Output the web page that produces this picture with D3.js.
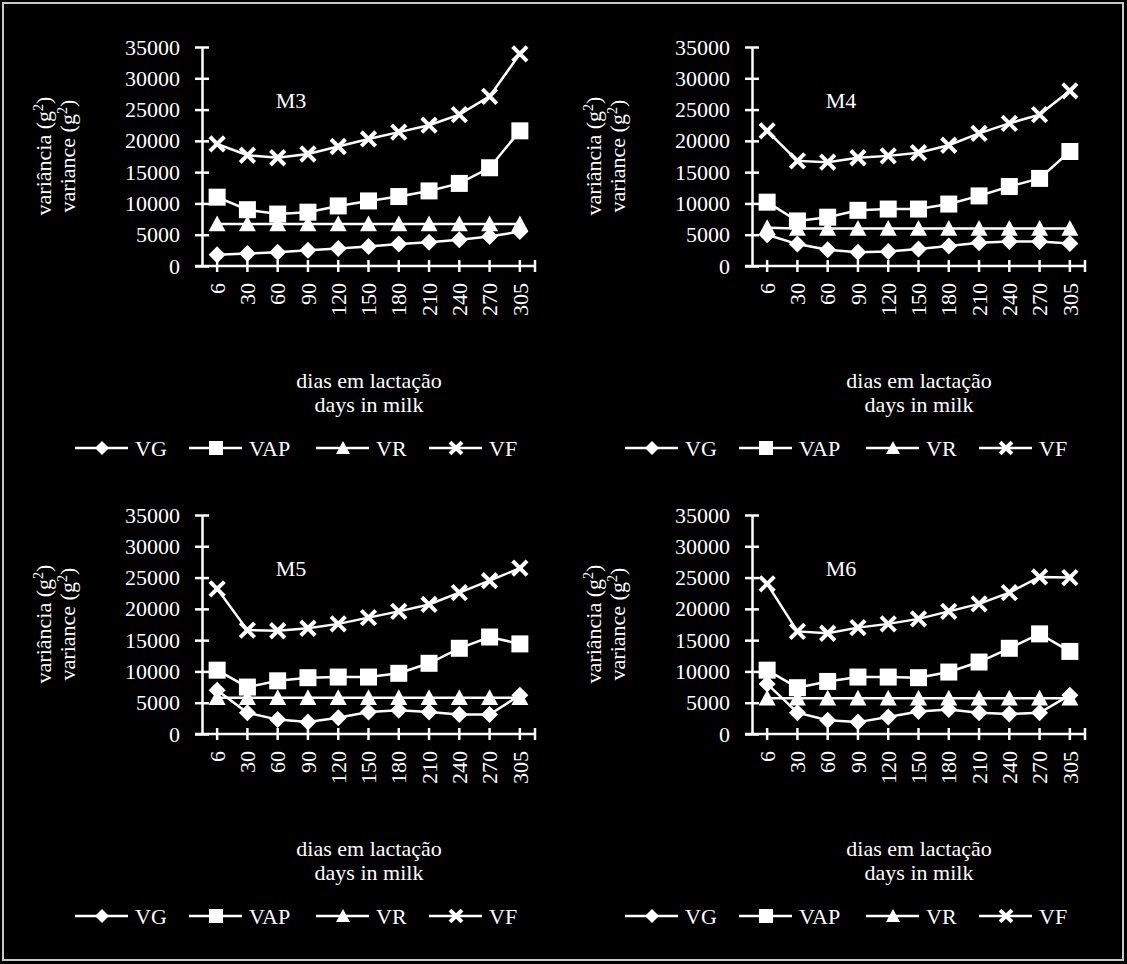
<!DOCTYPE html>
<html><head><meta charset="utf-8">
<script src="https://cdn.jsdelivr.net/npm/d3@7"></script>
<style>
html,body{margin:0;padding:0;background:#000;}
svg{display:block;}
text{font-family:"Liberation Serif","Times New Roman",serif;fill:#fff;}
</style></head>
<body>
<svg id="chart" width="1127" height="964"></svg>
<script>
const days = ["6","30","60","90","120","150","180","210","240","270","305"];
const yTicks = [0,5000,10000,15000,20000,25000,30000,35000];
const seriesNames = ["VG","VAP","VR","VF"];
const panelNames = ["M3","M4","M5","M6"];

const M3_VG  = [1800,2000,2200,2500,2800,3100,3500,3800,4200,4700,5500];
const M3_VAP = [11000,9000,8300,8600,9600,10400,11100,12000,13200,15700,21600];
const M3_VR  = [6700,6700,6700,6700,6700,6700,6700,6700,6700,6700,6700];
const M3_VF  = [19500,17700,17300,17900,19100,20300,21400,22500,24200,27100,33900];

const M4_VG  = [5000,3500,2600,2200,2300,2700,3200,3700,3900,3900,3600];
const M4_VAP = [10200,7200,7800,8900,9100,9100,9900,11200,12700,14000,18300];
const M4_VR  = [6100,6000,6000,6000,6000,6000,6000,6000,6000,6000,6000];
const M4_VF  = [21600,16800,16600,17300,17600,18100,19300,21200,22800,24200,28000];

const M5_VG  = [7000,3400,2300,1900,2600,3500,3800,3500,3100,3100,6200];
const M5_VAP = [10200,7500,8500,9000,9100,9100,9700,11300,13700,15500,14400];
const M5_VR  = [5800,5800,5800,5800,5800,5800,5800,5800,5800,5800,5800];
const M5_VF  = [23200,16600,16500,16900,17600,18600,19600,20700,22600,24500,26500];

const M6_VG  = [8000,3400,2200,1900,2700,3600,3900,3400,3200,3400,6200];
const M6_VAP = [10200,7400,8400,9100,9100,9000,9900,11500,13700,16000,13200];
const M6_VR  = [5700,5700,5700,5700,5700,5700,5700,5700,5700,5700,5700];
const M6_VF  = [24000,16400,16100,17000,17600,18400,19600,20800,22600,25100,25000];

const panelData = {
  M3:[M3_VG,M3_VAP,M3_VR,M3_VF],
  M4:[M4_VG,M4_VAP,M4_VR,M4_VF],
  M5:[M5_VG,M5_VAP,M5_VR,M5_VF],
  M6:[M6_VG,M6_VAP,M6_VR,M6_VF]
};

const svg = d3.select("#chart");
svg.append("rect").attr("x",0).attr("y",0).attr("width",1127).attr("height",964).attr("fill","#000");
svg.append("rect").attr("x",3).attr("y",3).attr("width",1120).attr("height",957)
  .attr("fill","none").attr("stroke","#c8c8c8").attr("stroke-width",2);

const FS = 22;

const layout = {
  M3:{ox:0,   oy:0},
  M4:{ox:550, oy:0},
  M5:{ox:0,   oy:468},
  M6:{ox:550, oy:468}
};

function marker(g, type, cx, cy, s){
  if(type==="VG"){
    g.append("path").attr("d",`M${cx},${cy-s}L${cx+s},${cy}L${cx},${cy+s}L${cx-s},${cy}Z`).attr("fill","#fff");
  } else if(type==="VAP"){
    g.append("rect").attr("x",cx-s).attr("y",cy-s).attr("width",2*s).attr("height",2*s).attr("fill","#fff");
  } else if(type==="VR"){
    g.append("path").attr("d",`M${cx},${cy-s}L${cx+s},${cy+s*0.85}L${cx-s},${cy+s*0.85}Z`).attr("fill","#fff");
  } else {
    const k = s*0.85;
    g.append("path").attr("d",`M${cx-k},${cy-k}L${cx+k},${cy+k}M${cx+k},${cy-k}L${cx-k},${cy+k}`)
      .attr("stroke","#fff").attr("stroke-width",4).attr("fill","none");
  }
}

function drawPanel(name){
  const L = layout[name];
  const g = svg.append("g").attr("transform",`translate(${L.ox},${L.oy})`);
  const x0 = 202, x1 = 535, yTop = 47, yBot = 266;
  const x = d3.scaleBand().domain(days).range([x0,x1]).padding(0);
  const y = d3.scaleLinear().domain([0,35000]).range([yBot,yTop]);
  const cx = d => x(d)+x.bandwidth()/2;

  const ya = g.append("g").attr("transform",`translate(${x0},0)`)
    .call(d3.axisLeft(y).tickValues(yTicks).tickSize(0).tickPadding(22).tickFormat(d3.format("d")));
  ya.select(".domain").attr("stroke","#fff").attr("stroke-width",2.5);
  ya.selectAll(".tick line").attr("x1",-7).attr("x2",7).attr("stroke","#fff").attr("stroke-width",2.5);
  ya.selectAll("text").attr("font-size",FS).attr("font-family","Liberation Serif").attr("fill","#fff");

  const xa = g.append("g").attr("transform",`translate(0,${yBot})`);
  xa.append("line").attr("x1",x0-7).attr("x2",x1).attr("y1",0).attr("y2",0).attr("stroke","#fff").attr("stroke-width",2.5);
  const tickPos = days.map(cx).concat([x1]);
  xa.selectAll("line.tk").data(tickPos).enter().append("line").attr("class","tk")
    .attr("x1",d=>d).attr("x2",d=>d).attr("y1",-6).attr("y2",6).attr("stroke","#fff").attr("stroke-width",2.5);
  xa.selectAll("text.tl").data(days).enter().append("text").attr("class","tl")
    .attr("transform",d=>`translate(${cx(d)},17) rotate(-90)`)
    .attr("text-anchor","end").attr("dy","0.35em").attr("font-size",FS).text(d=>d);

  const yt = g.append("text").attr("transform",`translate(51,156) rotate(-90)`).attr("text-anchor","middle").attr("font-size",FS);
  yt.append("tspan").text("variância (g");
  yt.append("tspan").attr("baseline-shift","super").attr("font-size",FS*0.65).text("2");
  yt.append("tspan").text(")");
  const yt2 = g.append("text").attr("transform",`translate(75,156) rotate(-90)`).attr("text-anchor","middle").attr("font-size",FS);
  yt2.append("tspan").text("variance (g");
  yt2.append("tspan").attr("baseline-shift","super").attr("font-size",FS*0.65).text("2");
  yt2.append("tspan").text(")");

  g.append("text").attr("x",369).attr("y",388).attr("text-anchor","middle").attr("font-size",FS).text("dias em lactação");
  g.append("text").attr("x",369).attr("y",412).attr("text-anchor","middle").attr("font-size",FS).text("days in milk");

  g.append("text").attr("x",291).attr("y",108).attr("text-anchor","middle").attr("font-size",FS).text(name);

  const line = d3.line().x((d,i)=>cx(days[i])).y(d=>y(d));
  const data = panelData[name];
  data.forEach((vals)=>{
    g.append("path").datum(vals).attr("d",line).attr("fill","none").attr("stroke","#fff").attr("stroke-width",2.5);
  });
  data.forEach((vals,si)=>{
    vals.forEach((v,i)=>marker(g, seriesNames[si], cx(days[i]), y(v), 8.5));
  });

  const lg = g.append("g").attr("transform",`translate(0,448)`);
  const lx = [75,189,316,429];
  seriesNames.forEach((s,i)=>{
    lg.append("line").attr("x1",lx[i]).attr("x2",lx[i]+53).attr("y1",0).attr("y2",0).attr("stroke","#fff").attr("stroke-width",2.5);
    marker(lg, s, lx[i]+27, 0, 7);
    lg.append("text").attr("x",lx[i]+60).attr("y",0).attr("dy","0.35em").attr("font-size",FS).text(s);
  });
}

panelNames.forEach(drawPanel);
</script>
</body></html>
